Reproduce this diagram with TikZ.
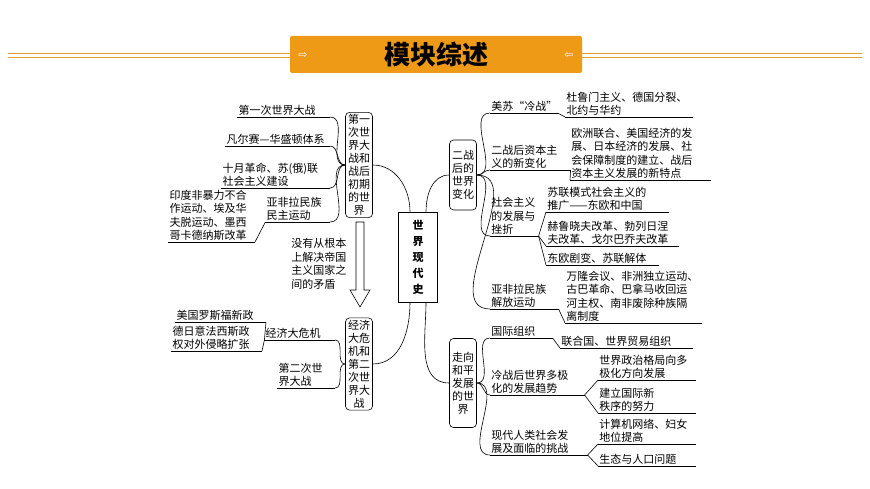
\documentclass[tikz,border=0pt]{standalone}
\usepackage{fontspec}
\newfontfamily\cjk{Noto Sans CJK SC}
\newfontfamily\symf{DejaVu Sans}
\definecolor{bannerorange}{HTML}{EE9A16}
\definecolor{bannerline}{HTML}{E0A030}
\usetikzlibrary{positioning}

\begin{document}
\begin{tikzpicture}[x=1pt,y=-1pt,line width=0.6pt]
    \tikzstyle{box}=[draw, rounded corners=4pt, inner sep=2pt, text width=23pt, align=center, font=\cjk\fontsize{11}{13}\selectfont]
    \tikzstyle{leaf}=[inner sep=1pt, align=left, anchor=south west, font=\cjk\fontsize{11}{13.5}\selectfont]
    \tikzstyle{lleaf}=[leaf, anchor=south east]
    \tikzstyle{root}=[draw, inner sep=2pt, text width=12pt, minimum width=39pt, minimum height=90pt, align=center, font=\cjk\bfseries\fontsize{11}{16}\selectfont]

    \useasboundingbox (0,0) rectangle (870,489);

    % banner
    \draw[bannerline] (8,53) -- (290,53) (8,57) -- (290,57);
    \draw[bannerline] (582,53) -- (862,53) (582,57) -- (862,57);
    \fill[bannerorange, rounded corners=2pt] (290,36) rectangle (582,73);
    \node[font=\cjk\bfseries\fontsize{26}{28}\selectfont] (title) at (436,55) {模块综述};
    \node[white, font=\symf\fontsize{11}{11}\selectfont] (al) at (303,55) {⇨};
    \node[white, font=\symf\fontsize{11}{11}\selectfont] (ar) at (569,55) {⇦};

    % main boxes
    \node[root] (C) at (418,257) {世\\界\\现\\代\\史};
    \node[box, minimum height=105pt] (L1) at (359,165) {第一\\次世\\界大\\战和\\战后\\初期\\的世\\界};
    \node[box, minimum height=92pt] (L2) at (359,364) {经济\\大危\\机和\\第二\\次世\\界大\\战};
    \node[box, minimum height=70pt] (R1) at (463,175) {二战\\后的\\世界\\变化};
    \node[box, minimum height=89pt] (R2) at (463,383) {走向\\和平\\发展\\的世\\界};

    \draw (L1.east) to[out=0,in=90] ([xshift=-8pt]C.north);
    \draw (L2.east) to[out=0,in=-90] ([xshift=-8pt]C.south);
    \draw (R1.west) to[out=180,in=90] ([xshift=8pt]C.north);
    \draw (R2.west) to[out=180,in=-90] ([xshift=8pt]C.south);

    % hollow arrow
    \draw (356,222) -- (364,222) -- (364,290) -- (370,290) -- (360,307) -- (350,290) -- (356,290) -- cycle;
    \node[leaf, anchor=north west, text width=60pt] (why) at (290,237) {没有从根本\\上解决帝国\\主义国家之\\间的矛盾};

    % left upper
    \node[lleaf, text width=90pt] (a1) at (330,117) {第一次世界大战};
    \node[lleaf, text width=102pt] (a2) at (330,146) {凡尔赛—华盛顿体系};
    \node[lleaf, text width=106pt] (a3) at (330,188) {十月革命、苏(俄)联\\社会主义建设};
    \node[lleaf, text width=62pt] (a4) at (330,222) {亚非拉民族\\民主运动};
    \node[lleaf, text width=84pt] (a5) at (255,242) {印度非暴力不合\\作运动、埃及华\\夫脱运动、墨西\\哥卡德纳斯改革};
    \foreach \n in {a1,a2,a3,a4}
        \draw (\n.south east) to[out=0,in=180] (L1.west);
    \draw (a5.south east) -- (a4.south west);

    % left lower
    \node[lleaf, text width=68pt] (b1) at (335,340) {经济大危机};
    \node[lleaf, text width=88pt] (b2) at (266,322) {美国罗斯福新政};
    \node[lleaf, text width=88pt] (b3) at (262,351) {德日意法西斯政\\权对外侵略扩张};
    \node[lleaf, text width=55pt] (b4) at (335,388) {第二次世\\界大战};
    \foreach \n in {b1,b4}
        \draw (\n.south east) to[out=0,in=180] (L2.west);
    \foreach \n in {b2,b3}
        \draw (\n.south east) -- (b1.south west);

    % right upper
    \node[leaf, text width=65pt] (c1) at (490,113) {美苏“冷战”};
    \node[leaf, text width=125pt] (c2) at (565,117) {杜鲁门主义、德国分裂、\\北约与华约};
    \node[leaf, text width=78pt] (c3) at (490,170) {二战后资本主\\义的新变化};
    \node[leaf, text width=138pt] (c4) at (570,180) {欧洲联合、美国经济的发\\展、日本经济的发展、社\\会保障制度的建立、战后\\资本主义发展的新特点};
    \node[leaf, text width=46pt] (c5) at (490,236) {社会主义\\的发展与\\挫折};
    \node[leaf, text width=120pt] (c6) at (546,212) {苏联模式社会主义的\\推广——东欧和中国};
    \node[leaf, text width=130pt] (c7) at (546,246) {赫鲁晓夫改革、勃列日涅\\夫改革、戈尔巴乔夫改革};
    \node[leaf, text width=110pt] (c8) at (546,265) {东欧剧变、苏联解体};
    \node[leaf, text width=66pt] (c9) at (490,309) {亚非拉民族\\解放运动};
    \node[leaf, text width=134pt] (c10) at (565,323) {万隆会议、非洲独立运动、\\古巴革命、巴拿马收回运\\河主权、南非废除种族隔\\离制度};
    \foreach \n in {c1,c3,c5,c9}
        \draw (\n.south west) to[out=180,in=0] (R1.east);
    \draw (c1.south east) -- (c2.south west);
    \draw (c3.south east) -- (c4.south west);
    \draw (c9.south east) -- (c10.south west);
    \foreach \n in {c6,c7,c8}
        \draw (c5.south east) -- (\n.south west);

    % right lower
    \node[leaf, text width=60pt] (d1) at (490,338) {国际组织};
    \node[leaf, text width=130pt] (d2) at (560,348) {联合国、世界贸易组织};
    \node[leaf, text width=92pt] (d3) at (490,395) {冷战后世界多极\\化的发展趋势};
    \node[leaf, text width=95pt] (d4) at (598,380) {世界政治格局向多\\极化方向发展};
    \node[leaf, text width=95pt] (d5) at (598,413) {建立国际新\\秩序的努力};
    \node[leaf, text width=95pt] (d6) at (490,455) {现代人类社会发\\展及面临的挑战};
    \node[leaf, text width=95pt] (d7) at (598,444) {计算机网络、妇女\\地位提高};
    \node[leaf, text width=95pt] (d8) at (598,466) {生态与人口问题};
    \foreach \n in {d1,d3,d6}
        \draw (\n.south west) to[out=180,in=0] (R2.east);
    \draw (d1.south east) -- (d2.south west);
    \foreach \n in {d4,d5}
        \draw (d3.south east) -- (\n.south west);
    \foreach \n in {d7,d8}
        \draw (d6.south east) -- (\n.south west);

    % underlines
    \foreach \n in {a1,a2,a3,a4,a5,b1,b2,b3,b4,c1,c2,c3,c4,c5,c6,c7,c8,c9,c10,d1,d2,d3,d4,d5,d6,d7,d8}
        \draw (\n.south west) -- (\n.south east);
\end{tikzpicture}
\end{document}
